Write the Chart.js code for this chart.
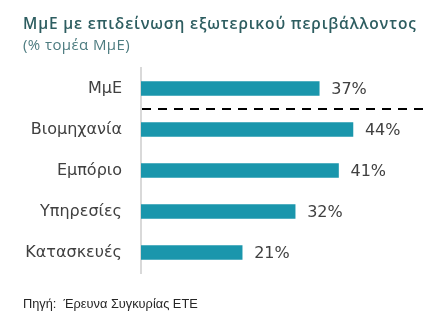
<!DOCTYPE html>
<html>
<head>
<meta charset="utf-8">
<script src="https://cdn.jsdelivr.net/npm/chart.js@4"></script>
<style>
  body { margin: 0; background: #fff; }
  #wrap { position: relative; width: 448px; height: 325px; overflow: hidden; }
  #myChart { position: absolute; left: 0; top: 0; }
  .txt { position: absolute; left: 23px; white-space: nowrap; font-family: "Open Sans", sans-serif; }
  #title { top: 12px; font-size: 15.5px; font-weight: 600; color: #2d5d60; letter-spacing: 0.85px; }
  #sub { top: 34px; font-size: 15px; color: #4d7c80; letter-spacing: 0.4px; }
  #src { top: 296px; font-size: 12.8px; color: #262626; font-family: "Liberation Sans", sans-serif; }
</style>
</head>
<body>
<div id="wrap">
  <canvas id="myChart" width="448" height="325"></canvas>
  <div class="txt" id="title">ΜμΕ με επιδείνωση εξωτερικού περιβάλλοντος</div>
  <div class="txt" id="sub">(% τομέα ΜμΕ)</div>
  <div class="txt" id="src">Πηγή:&nbsp; Έρευνα Συγκυρίας ΕΤΕ</div>
</div>
<script>
// data
const labels = ['ΜμΕ', 'Βιομηχανία', 'Εμπόριο', 'Υπηρεσίες', 'Κατασκευές'];
const values = [37, 44, 41, 32, 21];

const ctx = document.getElementById('myChart');

// valores ao lado das barras + linha tracejada depois de ΜμΕ
const extras = {
  id: 'extras',
  afterDatasetsDraw(chart) {
    const c = chart.ctx;
    const meta = chart.getDatasetMeta(0);
    const y = chart.scales.y;
    const area = chart.chartArea;

    c.save();
    c.font = '16px "DejaVu Sans", sans-serif';
    c.fillStyle = '#404040';
    c.textBaseline = 'middle';
    meta.data.forEach(function (bar, i) {
      c.fillText(values[i] + '%', bar.x + 12, bar.y + 1);
    });

    const yy = Math.round((y.getPixelForValue(0) + y.getPixelForValue(1)) / 2);
    c.setLineDash([9, 7]);
    c.lineWidth = 2;
    c.strokeStyle = '#000';
    c.beginPath();
    c.moveTo(area.left + 1, yy);
    c.lineTo(area.right, yy);
    c.stroke();
    c.restore();
  }
};

new Chart(ctx, {
  type: 'bar',
  data: {
    labels: labels,
    datasets: [{
      data: values,
      backgroundColor: '#1a96ac',
      barThickness: 14
    }]
  },
  options: {
    indexAxis: 'y',
    responsive: false,
    animation: false,
    layout: { padding: { top: 68, bottom: 52, right: 18, left: 0 } },
    plugins: {
      legend: { display: false },
      tooltip: { enabled: false }
    },
    scales: {
      x: { display: false, min: 0, max: 60 },
      y: {
        afterFit(scale) { scale.width = 141; },
        grid: { display: false },
        border: { display: true, color: '#d9d9d9', width: 2 },
        ticks: {
          padding: 11,
          color: '#404040',
          font: { size: 16, family: '"DejaVu Sans", sans-serif' }
        }
      }
    }
  },
  plugins: [extras]
});
</script>
</body>
</html>
